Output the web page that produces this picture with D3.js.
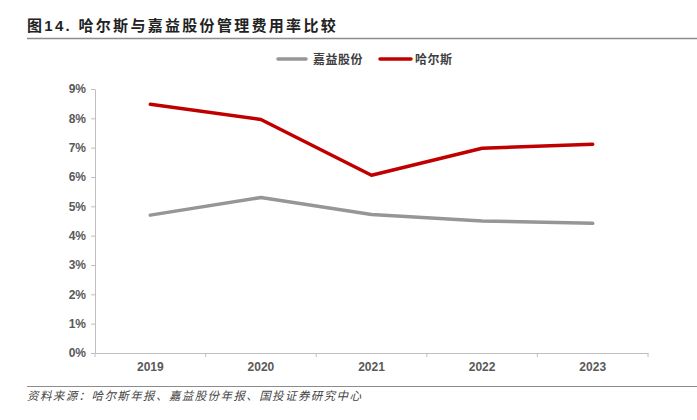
<!DOCTYPE html>
<html><head><meta charset="utf-8">
<script src="https://cdn.jsdelivr.net/npm/d3@7"></script>
<style>body{margin:0;background:#fff;} svg{display:block;}</style>
</head><body>
<script>
const title = "图14. 哈尔斯与嘉益股份管理费用率比较";
const source = "资料来源：哈尔斯年报、嘉益股份年报、国投证券研究中心";
const years = ["2019","2020","2021","2022","2023"];
const seriesNames = ["嘉益股份","哈尔斯"];
const jiayi = [4.70, 5.30, 4.72, 4.50, 4.42];
const haers = [8.48, 7.96, 6.06, 6.98, 7.12];
const yTicks = [0,1,2,3,4,5,6,7,8,9];
const colors = ["#969696","#C00000"];

const W=697,H=420;
const svg=d3.select("body").append("svg").attr("width",W).attr("height",H);
const font="'Liberation Sans', Arial, 'Noto Sans CJK SC', sans-serif";

svg.append("text").attr("x",27).attr("y",31).text(title)
  .attr("font-family",font).attr("font-weight","bold").attr("font-size",15).attr("fill","#222")
  .attr("letter-spacing",2.3);
svg.append("line").attr("x1",27).attr("x2",697).attr("y1",38.5).attr("y2",38.5).attr("stroke","#8c8c8c").attr("stroke-width",1.5);

const x=d3.scaleBand().domain(years).range([95,648]);
const y=d3.scaleLinear().domain([0,9]).range([353,89]);

const yAxis=svg.append("g").attr("transform","translate(95,0)")
  .call(d3.axisLeft(y).tickValues(yTicks).tickFormat(d=>d+"%").tickSize(4).tickSizeOuter(0));
const xAxis=svg.append("g").attr("transform","translate(0,353)")
  .call(d3.axisBottom(x).tickSize(0).tickPadding(9));
[yAxis,xAxis].forEach(g=>{
  g.select(".domain").attr("stroke","#bfbfbf");
  g.selectAll(".tick line").attr("stroke","#bfbfbf");
  g.selectAll("text").attr("font-family",font).attr("font-weight","bold").attr("font-size",12).attr("fill","#595959");
});
yAxis.selectAll("text").attr("x",-9);
// category boundary ticks on x axis
svg.append("g").selectAll("line").data(years.concat(["end"])).join("line")
  .attr("x1",(d,i)=>95+i*x.step()).attr("x2",(d,i)=>95+i*x.step())
  .attr("y1",353).attr("y2",357).attr("stroke","#bfbfbf");

const line=d3.line().x((d,i)=>x(years[i])+x.bandwidth()/2).y(d=>y(d));
[jiayi,haers].forEach((s,k)=>{
  svg.append("path").datum(s).attr("d",line).attr("fill","none")
    .attr("stroke",colors[k]).attr("stroke-width",3.5).attr("stroke-linecap","round").attr("stroke-linejoin","round");
});

// legend
const leg=[{x1:278,x2:306,tx:313},{x1:380,x2:411,tx:415}];
leg.forEach((l,k)=>{
  svg.append("line").attr("x1",l.x1).attr("x2",l.x2).attr("y1",59).attr("y2",59)
    .attr("stroke",colors[k]).attr("stroke-width",3.5).attr("stroke-linecap","round");
  svg.append("text").attr("x",l.tx).attr("y",63.5).text(seriesNames[k])
    .attr("font-family",font).attr("font-weight","bold").attr("font-size",12).attr("fill","#404040")
    .attr("letter-spacing",0.5);
});

svg.append("line").attr("x1",27).attr("x2",697).attr("y1",386.5).attr("y2",386.5).attr("stroke","#8c8c8c").attr("stroke-width",1.2);
svg.append("text").attr("x",27).attr("y",400).text(source)
  .attr("font-family",font).attr("font-style","italic").attr("font-size",11.5).attr("fill","#444")
  .attr("letter-spacing",1.4);
</script>
</body></html>
